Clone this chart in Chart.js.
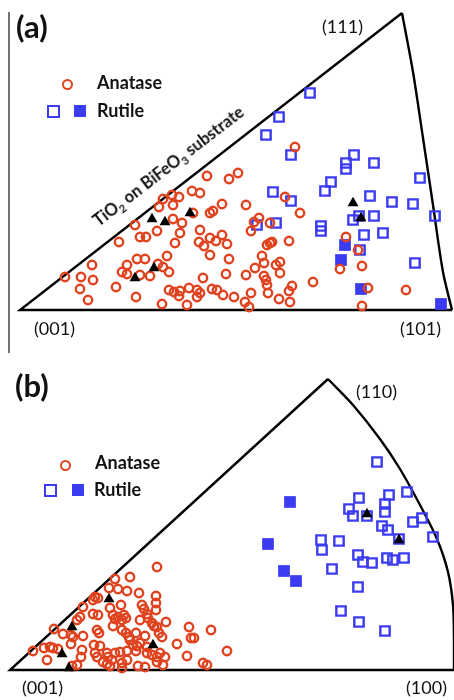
<!DOCTYPE html>
<html>
<head>
<meta charset="utf-8">
<script src="https://cdn.jsdelivr.net/npm/chart.js@4/dist/chart.umd.min.js"></script>
<style>
  body { margin: 0; background: #fff; }
  #wrap { position: relative; width: 454px; height: 700px; overflow: hidden; }
  #c { position: absolute; left: 0; top: 0; }
  .t { position: absolute; font-family: Lato, "Open Sans", sans-serif; color: #111; white-space: nowrap; }
  .panel { font-size: 31px; font-weight: bold; }
  .leg { font-size: 18px; font-weight: bold; }
  .idx { font-size: 18px; }
  .circ { position: absolute; width: 7px; height: 7px; border: 2.4px solid #e0431f; border-radius: 50%; }
  .sq { position: absolute; width: 9px; height: 9px; border: 2.4px solid #3b3bf2; }
  .sqf { position: absolute; width: 12px; height: 12px; background: #3b3bf2; }
</style>
</head>
<body>
<div id="wrap">
  <canvas id="c" width="454" height="700"></canvas>

  <div class="t panel" style="left:16px;top:7px;">(a)</div>
  <div class="circ" style="left:62px;top:79px;"></div>
  <div class="t leg" style="left:97px;top:71px;">Anatase</div>
  <div class="sq" style="left:47px;top:105px;"></div>
  <div class="sqf" style="left:74px;top:105px;"></div>
  <div class="t leg" style="left:97px;top:99px;">Rutile</div>
  <div class="t idx" style="left:322px;top:15px;">(111)</div>
  <div class="t idx" style="left:34px;top:317px;">(001)</div>
  <div class="t idx" style="left:400px;top:317px;">(101)</div>
  <div class="t" style="left:169px;top:167px;font-size:16.5px;font-weight:bold;transform:translate(-50%,-50%) rotate(-37.5deg);">TiO<sub style="font-size:11px">2</sub> on BiFeO<sub style="font-size:11px">3</sub> substrate</div>

  <div class="t panel" style="left:15px;top:366px;">(b)</div>
  <div class="circ" style="left:60px;top:460px;"></div>
  <div class="t leg" style="left:95px;top:451px;">Anatase</div>
  <div class="sq" style="left:44px;top:484px;"></div>
  <div class="sqf" style="left:72px;top:484px;"></div>
  <div class="t leg" style="left:94px;top:478px;">Rutile</div>
  <div class="t idx" style="left:356px;top:380px;">(110)</div>
  <div class="t idx" style="left:22px;top:676px;">(001)</div>
  <div class="t idx" style="left:406px;top:676px;">(100)</div>
</div>
<script>
// positions (x right, y down)
const anataseA = [
  [207,176],[192,191],[200,193],[163,199],[172,195],[179,197],[173,205],[159,207],[173,219],[193,213],
  [210,213],[213,211],[222,204],[182,223],[157,231],[135,225],[180,233],[200,230],[140,237],[146,237],
  [119,242],[175,243],[199,242],[210,238],[216,241],[222,235],[227,244],[204,246],[210,255],[167,256],
  [137,259],[145,259],[92,265],[127,265],[158,264],[163,267],[169,272],[122,272],[127,274],[140,275],
  [150,276],[65,277],[81,277],[93,280],[203,278],[226,274],[116,287],[80,289],[169,290],[174,292],
  [180,291],[189,288],[197,290],[200,293],[212,289],[217,290],[223,295],[179,296],[197,297],[136,297],
  [88,300],[162,304],[187,305],
  [238,173],[229,179],[295,147],[285,197],[246,205],[300,213],[254,222],[259,218],[270,223],[251,231],
  [267,245],[270,243],[272,242],[289,241],[229,259],[262,256],[280,262],[276,265],[255,268],[264,263],
  [246,275],[264,276],[266,280],[267,285],[268,293],[280,273],[292,286],[289,291],[290,302],[313,282],
  [251,293],[234,297],[245,302],[249,307],[279,299],[340,269],[346,237],[358,250],[362,266],[368,288],
  [362,306],[406,290]
];
const rutileOpenA = [
  [310,93],[279,117],[266,135],[291,155],[354,155],[346,163],[346,169],[374,163],[273,192],[291,201],
  [325,191],[331,182],[257,225],[276,223],[321,226],[321,231],[370,196],[392,202],[413,204],[420,178],
  [435,216],[353,220],[359,216],[374,216],[383,233],[364,235],[360,250],[415,263]
];
const rutileFilledA = [[345,245],[341,260],[361,289],[441,304]];
const triangleA = [[152,219],[165,222],[190,213],[154,268],[135,278],[353,203],[361,218]];

const anataseB = [
  [157,567],[115,579],[130,577],[109,588],[118,589],[127,591],[139,593],[156,596],[156,603],[156,610],
  [95,597],[98,598],[93,600],[121,605],[110,608],[83,607],[93,614],[98,615],[113,615],[118,617],
  [124,615],[115,619],[122,620],[126,618],[142,605],[144,609],[147,614],[148,618],[152,623],[154,626],
  [157,627],[80,617],[77,620],[166,622],[140,620],[54,629],[63,634],[71,635],[73,637],[83,636],
  [97,630],[99,633],[113,626],[122,630],[126,633],[129,637],[136,633],[145,636],[159,633],[162,637],
  [189,627],[211,630],[191,638],[194,638],[177,644],[187,656],[203,663],[207,665],[227,651],
  [33,651],[44,648],[50,647],[53,648],[58,649],[47,660],[71,644],[82,650],[81,657],[72,666],
  [77,665],[94,645],[100,646],[95,653],[97,657],[107,653],[108,657],[112,660],[103,662],[107,664],
  [110,666],[115,653],[120,652],[127,651],[122,663],[122,668],[130,640],[133,645],[137,646],[140,643],
  [136,651],[147,647],[147,653],[152,655],[157,657],[160,653],[165,657],[157,662],[163,665],[138,666],
  [145,667],[127,660]
];
const rutileOpenB = [
  [377,462],[359,498],[389,495],[407,492],[385,504],[385,512],[349,509],[353,516],[367,516],[413,522],
  [422,518],[382,526],[388,530],[399,539],[433,537],[321,540],[322,550],[339,541],[358,555],[363,562],
  [372,563],[387,558],[393,560],[404,558],[332,569],[358,587],[341,611],[359,622],[385,631]
];
const rutileFilledB = [[290,502],[268,544],[284,571],[296,581]];
const triangleB = [[109,599],[72,627],[153,645],[62,654],[69,668],[367,514],[399,540]];

// triangle outlines
const edgesA = [[452,310],[20,310],[402,13]];
const arcA = [[402,13],[413,72],[423,138],[433,205],[443,272],[452,310]];
const edgesB = [[454,670],[10,670],[328,379]];
const arcB = [[328,379],[353,405],[380,439],[400,469],[420,505],[437,539],[448,572],[453,605],[454,640],[454,670]];
const frameA = [[9,12],[9,353]];

const pts = a => a.map(p => ({ x: p[0], y: p[1] }));
const red = '#e0431f', blue = '#3b3bf2';

function marks(data, style) {
  return Object.assign({ type: 'scatter', data: pts(data), showLine: false, clip: false }, style);
}
function outline(data, tension, color, width) {
  return { type: 'line', data: pts(data), showLine: true, pointRadius: 0, borderColor: color || '#000',
           borderWidth: width || 2.4, tension: tension, fill: false, clip: false };
}

const tri = { pointStyle: 'triangle', pointRadius: 6.3, backgroundColor: '#000', borderColor: '#000', borderWidth: 0 };
const circ = { pointStyle: 'circle', pointRadius: 4.2, backgroundColor: 'rgba(0,0,0,0)', borderColor: red, borderWidth: 2.4 };
const sqOpen = { pointStyle: 'rect', pointRadius: 6.6, backgroundColor: 'rgba(0,0,0,0)', borderColor: blue, borderWidth: 2.4 };
const sqFill = { pointStyle: 'rect', pointRadius: 8.3, backgroundColor: blue, borderColor: blue, borderWidth: 0 };

new Chart(document.getElementById('c'), {
  type: 'scatter',
  data: {
    datasets: [
      marks(triangleA, tri), marks(triangleB, tri),
      marks(anataseA, circ), marks(anataseB, circ),
      marks(rutileFilledA, sqFill), marks(rutileFilledB, sqFill),
      marks(rutileOpenA, sqOpen), marks(rutileOpenB, sqOpen),
      outline(edgesA, 0), outline(arcA, 0.3), outline(edgesB, 0), outline(arcB, 0.3),
      outline(frameA, 0, '#444', 1.5)
    ]
  },
  options: {
    responsive: false,
    animation: false,
    layout: { padding: 0, autoPadding: false },
    plugins: { legend: { display: false }, tooltip: { enabled: false } },
    scales: {
      x: { type: 'linear', min: 0, max: 454, display: false },
      y: { type: 'linear', min: 0, max: 700, reverse: true, display: false }
    }
  }
});
</script>
</body>
</html>
